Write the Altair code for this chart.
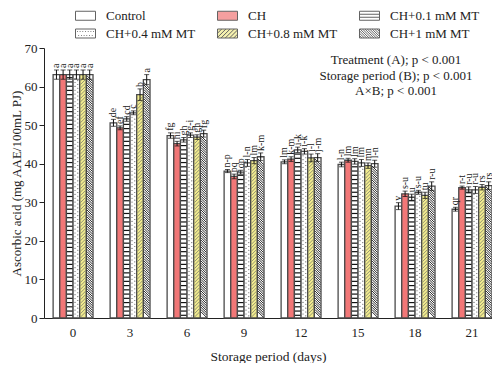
import altair as alt
import pandas as pd
import numpy as np

days = ["0", "3", "6", "9", "12", "15", "18", "21"]
treatments = ["Control", "CH", "CH+0.1 mM MT", "CH+0.4 mM MT", "CH+0.8 mM MT", "CH+1 mM MT"]

val_control = [63.1, 50.6, 47.3, 38.1, 40.5, 39.8, 29.0, 28.2]
val_ch      = [63.1, 49.3, 45.2, 36.7, 41.2, 40.9, 32.2, 33.8]
val_ch01    = [63.1, 51.6, 46.2, 37.8, 43.6, 40.6, 31.3, 33.2]
val_ch04    = [63.1, 53.2, 47.4, 40.2, 43.2, 40.2, 32.6, 33.2]
val_ch08    = [63.1, 57.9, 46.9, 40.8, 41.5, 39.5, 31.8, 33.9]
val_ch1     = [63.1, 61.8, 47.8, 41.8, 41.6, 40.0, 34.2, 34.3]

err_control = [1.2, 0.9, 0.7, 0.4, 0.5, 0.6, 0.9, 0.5]
err_ch      = [1.2, 0.5, 0.6, 0.6, 0.6, 0.5, 0.7, 0.4]
err_ch01    = [1.2, 0.6, 0.6, 0.5, 0.7, 0.7, 0.8, 0.8]
err_ch04    = [1.2, 0.5, 0.6, 0.9, 0.7, 0.9, 0.5, 0.9]
err_ch08    = [1.2, 1.5, 0.6, 0.8, 1.0, 0.7, 0.8, 0.7]
err_ch1     = [1.2, 1.3, 0.9, 1.0, 1.0, 0.9, 1.1, 1.0]

let_control = ["a", "de", "fg", "n-p", "lm", "l-n", "v", "qr"]
let_ch      = ["a", "ef", "hi", "pq", "k-m", "lm", "s-u", "r-t"]
let_ch01    = ["a", "cd", "gh", "op", "i-k", "lm", "u", "r-u"]
let_ch04    = ["a", "c", "g-i", "l-n", "i-k", "lm", "s-u", "r-u"]
let_ch08    = ["a", "b", "gh", "lm", "j-l", "mn", "tu", "rs"]
let_ch1     = ["a", "a", "fg", "k-m", "j-m", "l-n", "r-u", "rs"]

stats_lines = ["Treatment (A); p < 0.001", "Storage period (B); p < 0.001", "A×B; p < 0.001"]

values = [val_control, val_ch, val_ch01, val_ch04, val_ch08, val_ch1]
errors = [err_control, err_ch, err_ch01, err_ch04, err_ch08, err_ch1]
letters = [let_control, let_ch, let_ch01, let_ch04, let_ch08, let_ch1]

rows = []
for t, vs, es, ls in zip(treatments, values, errors, letters):
    for d, v, e, l in zip(days, vs, es, ls):
        rows.append({"day": d, "treatment": t, "value": v, "lo": v - e, "hi": v + e, "letter": l})
df = pd.DataFrame(rows)

FONT = "Liberation Serif"

xaxis = alt.Axis(title="Storage period (days)", labelAngle=0, ticks=False, labelPadding=8,
                 titlePadding=10, labelFont=FONT, labelFontSize=13, titleFont=FONT,
                 titleFontSize=13.5, titleFontWeight="normal", labelColor="#222",
                 titleColor="#222", domainColor="#222", domainWidth=1)
xscale = alt.Scale(domain=days, paddingInner=0.3, paddingOuter=0.08, align=1.0)
yaxis = alt.Axis(title="Ascorbic acid (mg AAE/100mL PJ)", values=list(range(0, 71, 10)),
                 tickSize=5, labelPadding=2, titlePadding=1, grid=False, labelOverlap=False,
                 labelFont=FONT, labelFontSize=13, titleFont=FONT, titleFontSize=13,
                 titleFontWeight="normal", labelColor="#222", titleColor="#222",
                 domainColor="#222", tickColor="#222", domainWidth=1)
yscale = alt.Scale(domain=[0, 70], nice=False, zero=True)
xoffscale = alt.Scale(domain=treatments, paddingInner=0, paddingOuter=0)


def X():
    return alt.X("day:N", sort=days, scale=xscale, axis=xaxis)


def XO():
    return alt.XOffset("treatment:N", sort=treatments, scale=xoffscale)


def Y(field):
    return alt.Y(f"{field}:Q", scale=yscale, axis=yaxis)


# ---- legend symbols (custom paths imitating the fill patterns) ----
H = 0.45
RECT = f"M-1,{-H}L1,{-H}L1,{H}L-1,{H}Z"


def hatch(step, back=True):
    segs = []
    x0 = -1 - 2 * H
    while x0 < 1:
        t0 = max(0.0, -1 - x0)
        t1 = min(2 * H, 1 - x0)
        if t1 > t0 + 0.02:
            if back:
                segs.append(f"M{x0+t0:.3f},{-H+t0:.3f}L{x0+t1:.3f},{-H+t1:.3f}")
            else:
                segs.append(f"M{x0+t0:.3f},{H-t0:.3f}L{x0+t1:.3f},{H-t1:.3f}")
        x0 += step
    return "".join(segs)


dots = "".join(f"M{x:.2f},{y:.2f}h0.08" for y in (-0.2, 0.2)
               for x in np.arange(-0.85 if y < 0 else -0.72, 0.9, 0.27))
legend_paths = [
    RECT,
    RECT,
    RECT + "M-1,-0.15L1,-0.15M-1,0.15L1,0.15",
    RECT + dots,
    RECT + hatch(0.42, back=False),
    RECT + hatch(0.24, back=True),
]
bar_colors = ["#ffffff", "#F27777", "#ffffff", "#ffffff", "#F2EC8E", "#ffffff"]

leg = alt.Legend(title=None, orient="none", legendX=31, legendY=-43, direction="horizontal",
                 columns=3, symbolSize=400, symbolStrokeWidth=1, symbolStrokeColor="#222",
                 symbolType="square",
                 labelFont=FONT, labelFontSize=13, labelColor="#222", labelOffset=10,
                 columnPadding=19, rowPadding=-2, padding=0, labelLimit=200)

fill_enc = alt.Fill("treatment:N", scale=alt.Scale(domain=treatments, range=bar_colors), legend=leg)

bars = alt.Chart(df).mark_bar(stroke="#4a4a4a", strokeWidth=1.3).encode(
    x=X(), xOffset=XO(), y=Y("value"), fill=fill_enc,
)

# ---- pattern overlays (derived from the bar values) ----
pattern_spec = {
    "CH+0.1 mM MT": dict(shape="M-1,0L1,0", start=0.7, step=1.1, top=0.5, color="#111111", sw=1.2, size=30),
    "CH+0.4 mM MT": dict(shape="M-0.55,-0.35L-0.45,-0.35M0.45,0.35L0.55,0.35", start=0.8, step=1.0, top=0.6, color="#777777", sw=1.1, size=30),
    "CH+0.8 mM MT": dict(shape="M-1,1L1,-1", start=0.9, step=0.9, top=0.9, color="#8a8a70", sw=0.9, size=30),
    "CH+1 mM MT": dict(shape="M-1,-1L1,1", start=0.9, step=0.6, top=0.9, color="#111111", sw=0.9, size=30),
}

layers = [bars]
for t, spec in pattern_spec.items():
    prow = []
    for _, r in df[df.treatment == t].iterrows():
        for yv in np.arange(spec["start"], r["value"] - spec["top"], spec["step"]):
            prow.append({"day": r["day"], "treatment": t, "value": float(yv)})
    pdf = pd.DataFrame(prow)
    layers.append(
        alt.Chart(pdf).mark_point(shape=spec["shape"], size=spec["size"], filled=False,
                                  stroke=spec["color"], strokeWidth=spec["sw"], opacity=1,
                                  strokeCap="round" if t == "CH+0.4 mM MT" else "butt").encode(
            x=X(), xOffset=XO(), y=Y("value"))
    )

err_rule = alt.Chart(df).mark_rule(color="#111", strokeWidth=1).encode(
    x=X(), xOffset=XO(), y=Y("lo"), y2="hi:Q")
cap_hi = alt.Chart(df).mark_tick(color="#111", thickness=1, size=5, orient="horizontal").encode(
    x=X(), xOffset=XO(), y=Y("hi"))
cap_lo = alt.Chart(df).mark_tick(color="#111", thickness=1, size=5, orient="horizontal").encode(
    x=X(), xOffset=XO(), y=Y("lo"))
labels = alt.Chart(df).mark_text(angle=270, align="left", baseline="middle", dx=2,
                                 font=FONT, fontSize=10, color="#222").encode(
    x=X(), xOffset=XO(), y=Y("hi"), text="letter:N")
layers += [err_rule, cap_hi, cap_lo, labels]

stats = alt.Chart(pd.DataFrame({"t": ["\n".join(stats_lines)]})).mark_text(
    font=FONT, fontSize=13, color="#222", lineBreak="\n", lineHeight=15.5,
    align="center", baseline="middle").encode(
    x=alt.value(352), y=alt.value(12), text="t:N")
layers.append(stats)

legend_layer = alt.Chart(df).mark_point(filled=True, size=0).encode(
    x=X(), xOffset=XO(), y=Y("value"),
    fill=fill_enc,
    shape=alt.Shape("treatment:N", scale=alt.Scale(domain=treatments, range=legend_paths), legend=leg),
)
layers.append(legend_layer)

chart = alt.layer(*layers).properties(
    width=448, height=270,
    autosize=alt.AutoSizeParams(type="none"),
    padding={"left": 36, "top": 40, "right": 0, "bottom": 45},
).configure(background="white", font=FONT).configure_view(stroke=None).configure_legend(
    labelFont=FONT, labelFontSize=13, labelColor="#222"
)

chart.save("out.html", embed_options={"renderer": "svg", "actions": False})
